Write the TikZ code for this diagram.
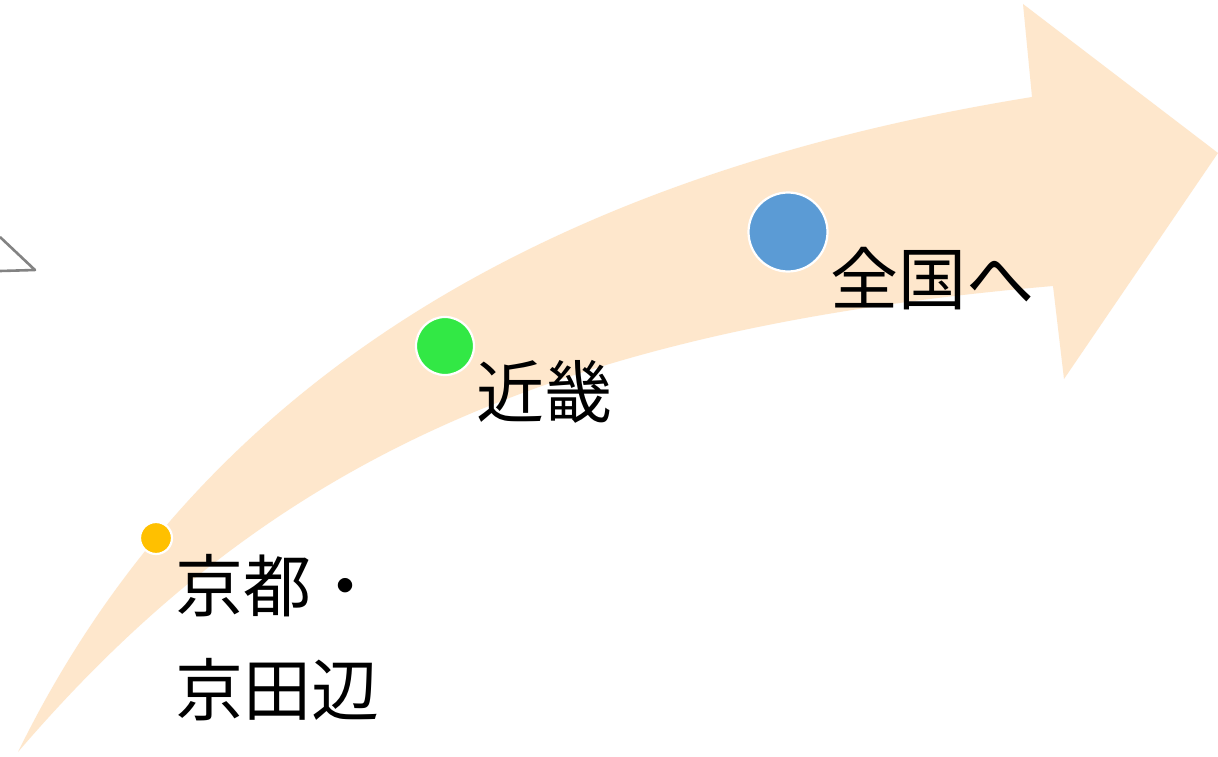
\documentclass[tikz,border=0pt]{standalone}
\usepackage{fontspec}
\newfontfamily\jp{Noto Sans CJK JP}
\definecolor{bandc}{HTML}{FEE7CC}
\definecolor{dotyel}{HTML}{FFC000}
\definecolor{dotgrn}{HTML}{32E845}
\definecolor{dotblu}{HTML}{5B9BD5}
\definecolor{sketch}{HTML}{6E6E6E}
\tikzset{
  stagedot/.style={circle, draw=white, line width=2.2pt, inner sep=0pt},
  stagelabel/.style={font={\jp\fontsize{68}{104}\selectfont}, inner sep=0pt, text=black, align=left},
}
\begin{document}
\begin{tikzpicture}[x=1pt,y=-1pt]
\useasboundingbox[fill=white] (0,0) rectangle (1218,757);
% faint grey sketch at the left edge
\draw[sketch, line width=2.6pt, line join=round, opacity=0.85] (0,237) -- (35,270) -- (0,271);
% curved arrow
\fill[bandc] (18,752) .. controls (210,360) and (580,170) .. (1032,97)
  -- (1023,4) -- (1218,153) -- (1064,379) -- (1053,286)
  .. controls (540,330) and (260,470) .. (18,752) -- cycle;
% stage dots
\node[stagedot, fill=dotyel, minimum size=32pt] (d1) at (156,538) {};
\node[stagedot, fill=dotgrn, minimum size=58pt] (d2) at (445,346) {};
\node[stagedot, fill=dotblu, minimum size=79pt] (d3) at (788,232) {};
% labels
\node[stagelabel, anchor=north west] (t1) at (175,554) {京都・\\京田辺};
\node[stagelabel, anchor=west] (t2) at (476,392) {近畿};
\node[stagelabel, anchor=west] (t3) at (830,279) {全国へ};
\end{tikzpicture}
\end{document}
